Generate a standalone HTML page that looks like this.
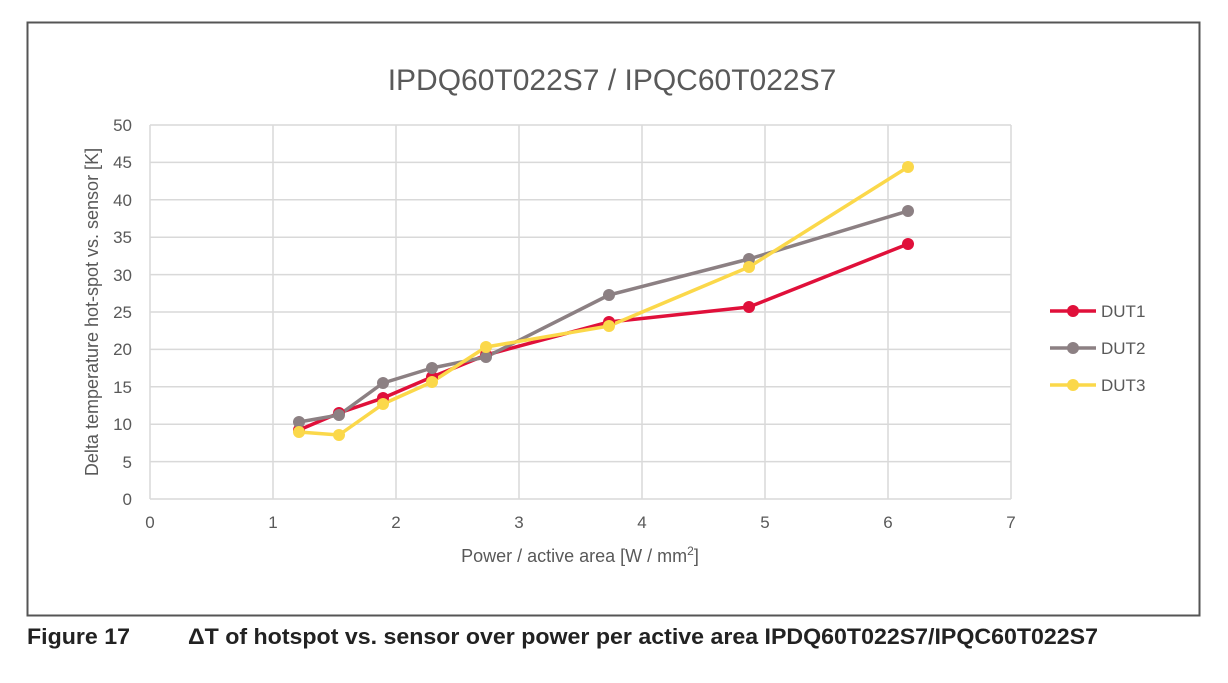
<!DOCTYPE html>
<html><head><meta charset="utf-8"><style>
body{margin:0;background:#fff;width:1228px;height:678px;overflow:hidden;font-family:"Liberation Sans",sans-serif}
</style></head><body>
<svg width="1228" height="678" xmlns="http://www.w3.org/2000/svg" font-family="Liberation Sans, sans-serif">
<rect x="27.5" y="22.5" width="1172" height="593" fill="#fff" stroke="#555" stroke-width="2"/>
<text x="612" y="90" font-size="30" fill="#595959" text-anchor="middle">IPDQ60T022S7 / IPQC60T022S7</text>
<g stroke="#d9d9d9" stroke-width="1.5">
<line x1="150" y1="125" x2="1011" y2="125"/><line x1="150" y1="162.4" x2="1011" y2="162.4"/>
<line x1="150" y1="199.8" x2="1011" y2="199.8"/><line x1="150" y1="237.2" x2="1011" y2="237.2"/>
<line x1="150" y1="274.6" x2="1011" y2="274.6"/><line x1="150" y1="312" x2="1011" y2="312"/>
<line x1="150" y1="349.4" x2="1011" y2="349.4"/><line x1="150" y1="386.8" x2="1011" y2="386.8"/>
<line x1="150" y1="424.2" x2="1011" y2="424.2"/><line x1="150" y1="461.6" x2="1011" y2="461.6"/>
<line x1="150" y1="499" x2="1011" y2="499"/>
<line x1="150" y1="125" x2="150" y2="499"/><line x1="273" y1="125" x2="273" y2="499"/>
<line x1="396" y1="125" x2="396" y2="499"/><line x1="519" y1="125" x2="519" y2="499"/>
<line x1="642" y1="125" x2="642" y2="499"/><line x1="765" y1="125" x2="765" y2="499"/>
<line x1="888" y1="125" x2="888" y2="499"/><line x1="1011" y1="125" x2="1011" y2="499"/>
</g>
<g font-size="17" fill="#595959" text-anchor="end">
<text x="132" y="131">50</text><text x="132" y="168">45</text><text x="132" y="206">40</text>
<text x="132" y="243">35</text><text x="132" y="281">30</text><text x="132" y="318">25</text>
<text x="132" y="355">20</text><text x="132" y="393">15</text><text x="132" y="430">10</text>
<text x="132" y="468">5</text><text x="132" y="505">0</text>
</g>
<g font-size="17" fill="#595959" text-anchor="middle">
<text x="150" y="528">0</text><text x="273" y="528">1</text><text x="396" y="528">2</text>
<text x="519" y="528">3</text><text x="642" y="528">4</text><text x="765" y="528">5</text>
<text x="888" y="528">6</text><text x="1011" y="528">7</text>
</g>
<text x="580" y="562" font-size="18" fill="#595959" text-anchor="middle">Power / active area [W / mm<tspan font-size="12" dy="-7">2</tspan><tspan dy="7">]</tspan></text>
<text transform="translate(98,312) rotate(-90)" font-size="18" fill="#595959" text-anchor="middle">Delta temperature hot-spot vs. sensor [K]</text>
<g fill="none" stroke-width="3.5" stroke-linejoin="round">
<polyline stroke="#e0103a" points="299,430 339,413 383,398 432,377 486,355 609,322 749,307 908,244"/>
<polyline stroke="#8c8083" points="299,422 339,415 383,383 432,368 486,357 609,295 749,259 908,211"/>
<polyline stroke="#fbd84a" points="299,432 339,435 383,404 432,382 486,347 609,326 749,267 908,167"/>
</g>
<g fill="#e0103a"><circle cx="299" cy="430" r="6"/><circle cx="339" cy="413" r="6"/><circle cx="383" cy="398" r="6"/><circle cx="432" cy="377" r="6"/><circle cx="486" cy="355" r="6"/><circle cx="609" cy="322" r="6"/><circle cx="749" cy="307" r="6"/><circle cx="908" cy="244" r="6"/></g>
<g fill="#8c8083"><circle cx="299" cy="422" r="6"/><circle cx="339" cy="415" r="6"/><circle cx="383" cy="383" r="6"/><circle cx="432" cy="368" r="6"/><circle cx="486" cy="357" r="6"/><circle cx="609" cy="295" r="6"/><circle cx="749" cy="259" r="6"/><circle cx="908" cy="211" r="6"/></g>
<g fill="#fbd84a"><circle cx="299" cy="432" r="6"/><circle cx="339" cy="435" r="6"/><circle cx="383" cy="404" r="6"/><circle cx="432" cy="382" r="6"/><circle cx="486" cy="347" r="6"/><circle cx="609" cy="326" r="6"/><circle cx="749" cy="267" r="6"/><circle cx="908" cy="167" r="6"/></g>
<g stroke-width="3.5">
<line x1="1050" y1="311" x2="1096" y2="311" stroke="#e0103a"/><circle cx="1073" cy="311" r="6" fill="#e0103a"/>
<line x1="1050" y1="348" x2="1096" y2="348" stroke="#8c8083"/><circle cx="1073" cy="348" r="6" fill="#8c8083"/>
<line x1="1050" y1="385" x2="1096" y2="385" stroke="#fbd84a"/><circle cx="1073" cy="385" r="6" fill="#fbd84a"/>
</g>
<g font-size="17" fill="#595959"><text x="1101" y="317">DUT1</text><text x="1101" y="354">DUT2</text><text x="1101" y="391">DUT3</text></g>
<text x="27" y="644" font-size="22" font-weight="bold" fill="#222" textLength="103" lengthAdjust="spacingAndGlyphs">Figure 17</text>
<text x="188" y="644" font-size="22" font-weight="bold" fill="#222" textLength="910" lengthAdjust="spacingAndGlyphs">ΔT of hotspot vs. sensor over power per active area IPDQ60T022S7/IPQC60T022S7</text>
</svg>
</body></html>
